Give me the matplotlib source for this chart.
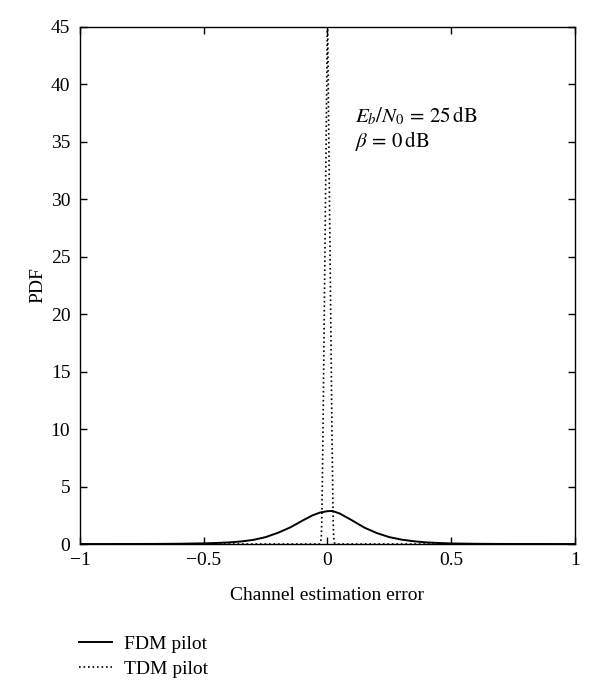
import matplotlib
matplotlib.use("Agg")
import matplotlib.pyplot as plt

plt.rcParams['font.family'] = ['Liberation Serif', 'DejaVu Serif']
plt.rcParams['mathtext.fontset'] = 'stix'
plt.rcParams['font.size'] = 13

# FDM pilot PDF
fdm_x = [-1.0, -0.8, -0.7, -0.6, -0.5, -0.45, -0.4, -0.35, -0.3, -0.25, -0.2, -0.15, -0.1,
         -0.06, -0.03, 0.0, 0.02, 0.05, 0.1, 0.15, 0.2, 0.25, 0.3, 0.35, 0.4, 0.45,
         0.5, 0.6, 0.7, 0.8, 1.0]
fdm_y = [0.0, 0.003, 0.01, 0.025, 0.06, 0.09, 0.14, 0.22, 0.36, 0.6, 0.98, 1.45, 2.05,
         2.5, 2.74, 2.86, 2.88, 2.65, 2.05, 1.42, 0.95, 0.6, 0.38, 0.24, 0.14, 0.09,
         0.05, 0.02, 0.008, 0.003, 0.0]

# TDM pilot PDF (very narrow peak reaching the top of the axes)
tdm_x = [-1.0, -0.032, -0.028, -0.025, -0.023, -0.021, -0.018, -0.013, -0.008, -0.004, 0.0,
         0.004, 0.008, 0.013, 0.018, 0.021, 0.023, 0.025, 0.028, 0.032, 1.0]
tdm_y = [0.0, 0.0, 0.1, 0.6, 2.0, 5.0, 10.0, 20.0, 30.0, 38.0, 47.0,
         38.0, 30.0, 20.0, 10.0, 5.0, 2.0, 0.6, 0.1, 0.0, 0.0]

x_ticks = [-1, -0.5, 0, 0.5, 1]
x_ticklabels = ['\u22121', '\u22120.5', '0', '0.5', '1']
y_ticks = [0, 5, 10, 15, 20, 25, 30, 35, 40, 45]

fig = plt.figure(figsize=(6.0, 6.99), dpi=100)
ax = fig.add_axes([0.1333, 0.2217, 0.825, 0.7397])

ax.plot(fdm_x, fdm_y, color='black', linestyle='-', linewidth=1.4, label='FDM pilot')
ax.plot(tdm_x, tdm_y, color='black', linestyle=(0, (1, 1.7)), linewidth=1.2,
        label='TDM pilot')

ax.set_xlim(-1, 1)
ax.set_ylim(0, 45)
ax.set_xticks(x_ticks)
ax.set_xticklabels(x_ticklabels)
ax.set_yticks(y_ticks)
ax.tick_params(direction='in', top=True, right=True, length=5, width=1, labelsize=14)
ax.tick_params(axis='x', pad=5.5)
ax.tick_params(axis='y', pad=7)
for s in ax.spines.values():
    s.set_linewidth(1.0)

ax.set_xlabel('Channel estimation error', fontsize=14, labelpad=13)
ax.set_ylabel('PDF', fontsize=14, labelpad=3)

ax.text(0.111, 37.3, r'$E_b/N_0\, =\, 25\,\mathrm{dB}$', fontsize=15, ha='left', va='center')
ax.text(0.111, 35.1, r'$\beta\, =\, 0\,\mathrm{dB}$', fontsize=15, ha='left', va='center')

handles, labels = ax.get_legend_handles_labels()
fig.legend(handles, labels, loc='upper left', bbox_to_anchor=(79 / 600, 1 - 635 / 699),
           frameon=False, fontsize=14, handlelength=1.7, handletextpad=0.62,
           labelspacing=0.4, borderpad=0, borderaxespad=0)

fig.savefig('out.png', dpi=100)
